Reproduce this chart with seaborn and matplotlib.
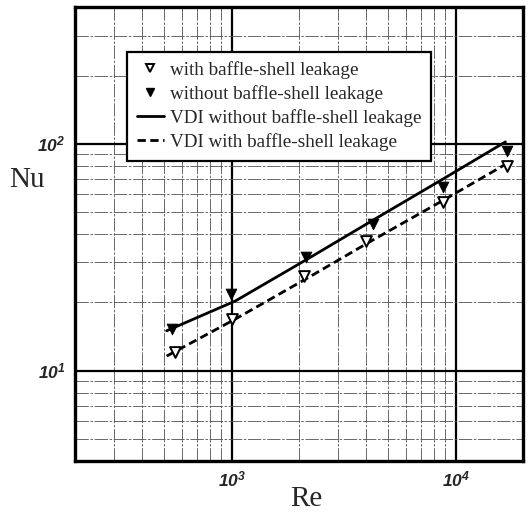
import numpy as np
import pandas as pd
import seaborn as sns
import matplotlib.pyplot as plt
from matplotlib.lines import Line2D
from matplotlib.ticker import LogLocator, NullFormatter

# measured points (Re, Nu)
re_with = [562, 1000, 2100, 4000, 8830, 17000]
nu_with = [12.1, 16.9, 26.2, 37.4, 55.5, 80.0]
re_without = [540, 990, 2140, 4300, 8830, 16900]
nu_without = [15.3, 21.8, 31.8, 44.5, 64.7, 93.1]

# VDI correlation
re_vdi_without = [513, 1040, 2150, 4300, 8900, 16700]
nu_vdi_without = [15.0, 20.3, 30.8, 46.2, 70.5, 102.0]
re_vdi_with = [513, 1040, 2150, 4300, 8900, 17800]
nu_vdi_with = [11.6, 16.9, 25.4, 37.8, 56.7, 84.2]

xtick_values = [1e3, 1e4]
xtick_labels = ['$10^3$', '$10^4$']
ytick_values = [1e1, 1e2]
ytick_labels = ['$10^1$', '$10^2$']

labels = ['with baffle-shell leakage', 'without baffle-shell leakage',
          'VDI without baffle-shell leakage', 'VDI with baffle-shell leakage']

sns.set_style('white')
plt.rcParams['mathtext.fontset'] = 'custom'
plt.rcParams['mathtext.rm'] = 'Liberation Sans:italic:bold'
plt.rcParams['mathtext.it'] = 'Liberation Sans:italic:bold'

fig, ax = plt.subplots(figsize=(5.28, 5.14), dpi=100)
fig.subplots_adjust(left=0.142, right=0.9905, top=0.986, bottom=0.103)

ax.set_xscale('log')
ax.set_yscale('log')
ax.set_xlim(200, 20000)
ax.set_ylim(4, 400)

df_vw = pd.DataFrame({'Re': re_vdi_without, 'Nu': nu_vdi_without})
df_vd = pd.DataFrame({'Re': re_vdi_with, 'Nu': nu_vdi_with})
sns.lineplot(data=df_vw, x='Re', y='Nu', ax=ax, color='black', lw=2.0, sort=False, zorder=3)
sns.lineplot(data=df_vd, x='Re', y='Nu', ax=ax, color='black', lw=2.0, sort=False, zorder=3)
ax.lines[-1].set_dashes((3, 1.6))

sns.scatterplot(x=re_with, y=nu_with, ax=ax, marker='v', s=60, facecolor='white',
                edgecolor='black', linewidth=1.4, zorder=4)
sns.scatterplot(x=re_without, y=nu_without, ax=ax, marker='v', s=60, color='black',
                edgecolor='black', zorder=4)

# grid
ax.xaxis.set_minor_locator(LogLocator(base=10, subs=np.arange(2, 10)))
ax.yaxis.set_minor_locator(LogLocator(base=10, subs=np.arange(2, 10)))
ax.xaxis.set_minor_formatter(NullFormatter())
ax.yaxis.set_minor_formatter(NullFormatter())
ax.grid(which='major', color='black', lw=1.6, zorder=1)
ax.grid(which='minor', color='#505050', lw=0.6, linestyle=(0, (16, 2, 3, 2)), zorder=1)
ax.set_axisbelow(True)

ax.set_xticks(xtick_values, labels=xtick_labels)
ax.set_yticks(ytick_values, labels=ytick_labels)
ax.tick_params(which='both', length=0, labelsize=12.5, pad=7)

for sp in ax.spines.values():
    sp.set_color('black')
    sp.set_linewidth(2.4)

ax.set_xlabel('Re', family='Liberation Serif', fontsize=21)
ax.xaxis.set_label_coords(0.516, -0.056)
ax.set_ylabel('Nu', family='Liberation Serif', fontsize=21, rotation=0, va='center', ha='center')
ax.yaxis.set_label_coords(-0.108, 0.619)

handles = [
    Line2D([], [], ls='none', marker='v', ms=6, mfc='white', mec='black', mew=1.4),
    Line2D([], [], ls='none', marker='v', ms=6, color='black'),
    Line2D([], [], color='black', lw=2.0),
    Line2D([], [], color='black', lw=2.0, dashes=(3, 1.6)),
]
leg = ax.legend(handles, labels, loc='upper left', bbox_to_anchor=(0.117, 0.902),
                borderaxespad=0, prop={'family': 'Liberation Serif', 'size': 13.8},
                handlelength=1.4, handletextpad=0.3, labelspacing=0.32,
                borderpad=0.5, fancybox=False, framealpha=1, edgecolor='black')
leg.get_frame().set_linewidth(1.6)

fig.savefig('out.png', dpi=100)
plt.close()
